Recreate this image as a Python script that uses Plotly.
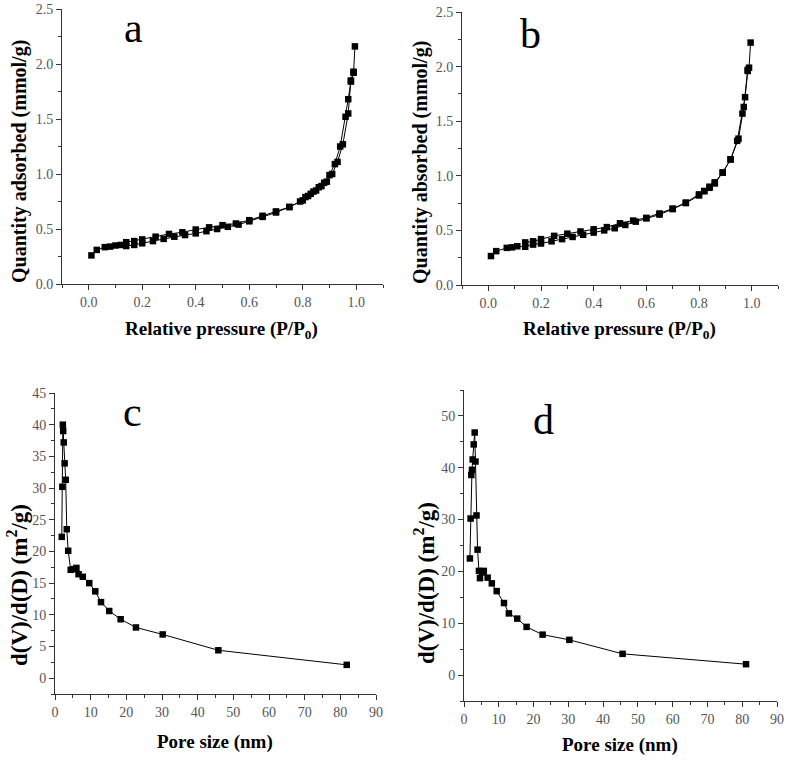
import plotly.graph_objects as go

# ---------------- data ----------------
# Panel a: N2 isotherm (adsorption + desorption branches)
a_ads_p = [0.01, 0.03, 0.06, 0.08, 0.10, 0.12, 0.14, 0.17, 0.20, 0.24, 0.28, 0.32, 0.36, 0.40,
           0.44, 0.48, 0.52, 0.56, 0.60, 0.65, 0.70, 0.75, 0.80, 0.82, 0.84, 0.86, 0.88,
           0.90, 0.92, 0.94, 0.96, 0.97, 0.98, 0.99, 0.995]
a_ads_q = [0.26, 0.31, 0.335, 0.34, 0.35, 0.355, 0.345, 0.355, 0.37, 0.39, 0.41, 0.43, 0.445, 0.46,
           0.48, 0.50, 0.52, 0.54, 0.57, 0.61, 0.65, 0.70, 0.76, 0.80, 0.84, 0.88, 0.92,
           0.99, 1.09, 1.25, 1.52, 1.68, 1.84, 1.92, 2.16]
a_des_p = [0.99, 0.98, 0.97, 0.95, 0.93, 0.91, 0.89, 0.87, 0.85, 0.83, 0.81, 0.79, 0.75, 0.70,
           0.65, 0.60, 0.55, 0.50, 0.45, 0.40, 0.35, 0.30, 0.25, 0.20, 0.17, 0.14]
a_des_q = [1.93, 1.85, 1.55, 1.27, 1.11, 1.00, 0.93, 0.89, 0.85, 0.82, 0.79, 0.75, 0.70, 0.66,
           0.62, 0.58, 0.55, 0.535, 0.515, 0.495, 0.47, 0.455, 0.43, 0.405, 0.39, 0.38]

# Panel b
b_ads_p = [0.01, 0.03, 0.07, 0.09, 0.11, 0.14, 0.17, 0.20, 0.24, 0.28, 0.32, 0.36, 0.40,
           0.44, 0.48, 0.52, 0.56, 0.60, 0.65, 0.70, 0.75, 0.80, 0.82, 0.84, 0.86, 0.89,
           0.92, 0.945, 0.965, 0.975, 0.985, 0.99, 0.996]
b_ads_q = [0.265, 0.31, 0.34, 0.345, 0.355, 0.35, 0.37, 0.38, 0.40, 0.42, 0.44, 0.46, 0.48,
           0.50, 0.52, 0.55, 0.58, 0.61, 0.645, 0.695, 0.75, 0.82, 0.86, 0.89, 0.93, 1.03,
           1.15, 1.32, 1.57, 1.72, 1.96, 1.99, 2.22]
b_des_p = [0.985, 0.97, 0.95, 0.92, 0.89, 0.86, 0.84, 0.82, 0.80, 0.75, 0.70, 0.65, 0.60,
           0.55, 0.50, 0.45, 0.40, 0.35, 0.30, 0.25, 0.20, 0.17, 0.14]
b_des_q = [1.97, 1.63, 1.34, 1.15, 1.03, 0.94, 0.90, 0.86, 0.83, 0.755, 0.70, 0.655, 0.615,
           0.59, 0.565, 0.53, 0.51, 0.49, 0.47, 0.45, 0.42, 0.40, 0.39]

# Panel c: pore size distribution
c_d = [1.9, 2.05, 2.2, 2.3, 2.45, 2.7, 3.0, 3.3, 3.7, 4.4, 5.3, 6.0, 6.6, 7.8, 9.6, 11.3,
       12.9, 15.2, 18.4, 22.7, 30.2, 45.8, 81.8]
c_v = [22.3, 30.2, 40.0, 39.0, 37.2, 33.9, 31.3, 23.5, 20.1, 17.1, 17.2, 17.4, 16.4, 16.0, 15.0, 13.7,
       12.0, 10.6, 9.3, 8.0, 6.9, 4.4, 2.1]

# Panel d
d_d = [1.7, 1.9, 2.1, 2.3, 2.5, 2.8, 3.07, 3.3, 3.6, 3.9, 4.3, 4.6, 5.2, 5.7, 6.8, 8.0, 9.4, 11.5,
       12.9, 15.3, 18.0, 22.6, 30.3, 45.6, 81.1]
d_v = [22.5, 30.2, 38.6, 39.6, 41.6, 44.5, 46.8, 41.2, 30.8, 24.2, 20.1, 18.7, 19.8, 20.1, 18.8, 17.7,
       16.2, 13.9, 11.9, 10.9, 9.3, 7.8, 6.8, 4.1, 2.1]

# ---------------- figure ----------------
W, H = 787, 767

def px_x(x):
    return x / W

def px_y(y):
    return 1 - y / H

fig = go.Figure()

line_style = dict(color="black", width=1)
marker_style = dict(symbol="square", size=6.5, color="black")

def add(xs, ys, xa, ya):
    fig.add_trace(go.Scatter(x=xs, y=ys, mode="lines+markers", line=line_style,
                             marker=marker_style, xaxis=xa, yaxis=ya, showlegend=False))

add(a_ads_p, a_ads_q, "x", "y")
add(a_des_p, a_des_q, "x", "y")
add(b_ads_p, b_ads_q, "x2", "y2")
add(b_des_p, b_des_q, "x2", "y2")
add(c_d, c_v, "x3", "y3")
add(d_d, d_v, "x4", "y4")

tickfont = dict(family="Liberation Serif", size=14, color="#555555")

def axis(domain, rng, dtick, minor_dtick, fmt=None, anchor=None):
    d = dict(domain=domain, range=rng, dtick=dtick, tick0=0, showgrid=False, zeroline=False,
             showline=True, linecolor="#333333", linewidth=1, ticks="outside", ticklen=5,
             tickcolor="#333333", tickfont=tickfont, anchor=anchor, automargin=False,
             ticklabeloverflow="allow",
             minor=dict(dtick=minor_dtick, tick0=0, ticks="outside", ticklen=3,
                        tickcolor="#333333", showgrid=False))
    if fmt:
        d["tickformat"] = fmt
    return d

# pixel boxes of plot areas
A = (62, 383, 9, 284)
B = (462, 778, 12, 285)
C = (55, 376, 393, 694)
D = (464, 777, 390, 701)

def xdom(box):
    return [px_x(box[0]), px_x(box[1])]

def ydom(box):
    return [px_y(box[3]), px_y(box[2])]

fig.update_layout(
    template="none",
    width=W, height=H, margin=dict(l=0, r=0, t=0, b=0, autoexpand=False),
    paper_bgcolor="white", plot_bgcolor="white",
    xaxis=axis(xdom(A), [-0.1, 1.1], 0.2, 0.1, ".1f", "y"),
    yaxis=axis(ydom(A), [0, 2.5], 0.5, 0.25, ".1f", "x"),
    xaxis2=axis(xdom(B), [-0.1, 1.1], 0.2, 0.1, ".1f", "y2"),
    yaxis2=axis(ydom(B), [0, 2.5], 0.5, 0.25, ".1f", "x2"),
    xaxis3=axis(xdom(C), [0, 90], 10, 5, None, "y3"),
    yaxis3=axis(ydom(C), [-2.5, 45], 5, 2.5, None, "x3"),
    xaxis4=axis(xdom(D), [0, 90], 10, 5, None, "y4"),
    yaxis4=axis(ydom(D), [-5, 55], 10, 5, None, "x4"),
)

xtitle_font = dict(family="Liberation Serif", size=19, color="black", weight="bold")
ytitle_font = dict(family="Liberation Serif", size=20, color="black", weight="bold")
ytitle_font2 = dict(family="Liberation Serif", size=23, color="black", weight="bold")
letter_font = dict(family="Liberation Serif", size=42, color="black")

def ann(text, x, y, font, angle=0):
    fig.add_annotation(text=text, x=px_x(x), y=px_y(y), xref="paper", yref="paper",
                       showarrow=False, font=font, textangle=angle,
                       xanchor="center", yanchor="middle")

ann("Relative pressure (P/P<sub>0</sub>)", 222, 330, xtitle_font)
ann("Relative pressure (P/P<sub>0</sub>)", 619, 330, xtitle_font)
ann("Pore size (nm)", 215, 742, xtitle_font)
ann("Pore size (nm)", 620, 745, xtitle_font)
ann("Quantity adsorbed (mmol/g)", 20, 162, ytitle_font, -90)
ann("Quantity absorbed (mmol/g)", 420, 163, ytitle_font, -90)
ann("d(V)/d(D) (m<sup>2</sup>/g)", 17, 585, ytitle_font2, -90)
ann("d(V)/d(D) (m<sup>2</sup>/g)", 424, 583, ytitle_font2, -90)

ann("a", 133, 28, letter_font)
ann("b", 530, 34, letter_font)
ann("c", 132, 412, letter_font)
ann("d", 543, 420, letter_font)

fig.write_html("out.html", config={"displayModeBar": False},
               post_script="document.body.style.margin='0';")
